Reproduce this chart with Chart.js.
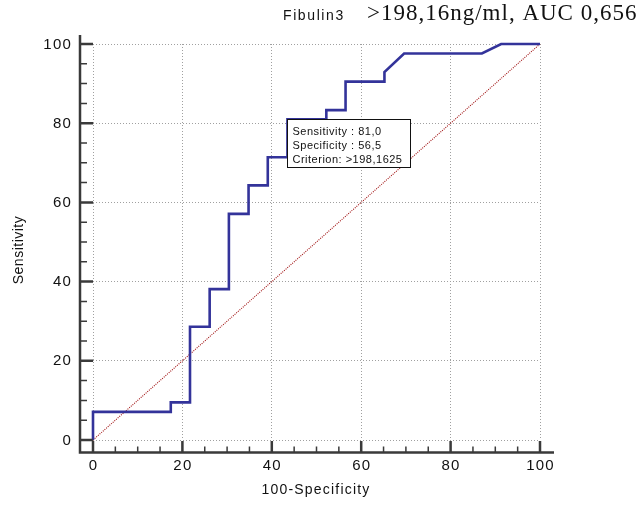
<!DOCTYPE html>
<html>
<head>
<meta charset="utf-8">
<script src="https://cdn.jsdelivr.net/npm/chart.js@4.4.1/dist/chart.umd.min.js"></script>
<style>
html,body{margin:0;padding:0;background:#fff;}
#wrap{width:640px;height:505px;position:relative;}
</style>
</head>
<body>
<div id="wrap"><canvas id="c" width="640" height="505"></canvas></div>
<script>
// ROC curve vertices (100-Specificity, Sensitivity)
const fpr  = [0, 0, 17.4, 17.4, 21.7, 21.7, 26.1, 26.1, 30.4, 30.4, 34.8, 34.8, 39.1, 39.1, 43.5, 43.5, 52.2, 52.2, 56.5, 56.5, 65.2, 65.2, 69.6, 87.0, 91.3, 100];
const sens = [0, 7.1, 7.1, 9.5, 9.5, 28.6, 28.6, 38.1, 38.1, 57.1, 57.1, 64.3, 64.3, 71.4, 71.4, 81.0, 81.0, 83.3, 83.3, 90.5, 90.5, 92.9, 97.6, 97.6, 100, 100];
// reference diagonal
const diagX = [0, 100];
const diagY = [0, 100];
// ticks
const xTicks = [0, 20, 40, 60, 80, 100];
const yTicks = [0, 20, 40, 60, 80, 100];
const minorTicks = [5, 10, 15, 25, 30, 35, 45, 50, 55, 65, 70, 75, 85, 90, 95];
// texts
const titleSans = "Fibulin3";
const titleSerif = ">198,16ng/ml, AUC 0,656";
const xTitle = "100-Specificity";
const yTitle = "Sensitivity";
// criterion point
const critX = 43.5;
const critY = 81.0;
const infoLines = ["Sensitivity : 81,0", "Specificity : 56,5", "Criterion: >198,1625"];

const SANS = '"Liberation Sans", Arial, sans-serif';
const SERIF = '"Liberation Serif", "Times New Roman", serif';
const AXIS = '#3a3a3a';

function txt(ctx, s, x, y, font, align, base, ls) {
  ctx.save();
  ctx.font = font;
  ctx.textAlign = align;
  ctx.textBaseline = base;
  ctx.fillStyle = '#111';
  try { ctx.letterSpacing = (ls || 0) + 'px'; } catch (e) {}
  ctx.fillText(s, x, y);
  ctx.restore();
}

const decor = {
  id: 'decor',
  afterDatasetsDraw(chart) {
    const ctx = chart.ctx;
    const xs = chart.scales.x, ys = chart.scales.y;
    // info box at criterion point
    const bx = Math.round(xs.getPixelForValue(critX)) + 0.5;
    const by = Math.round(ys.getPixelForValue(critY)) + 0.5;
    ctx.save();
    ctx.fillStyle = '#fff';
    ctx.strokeStyle = '#111';
    ctx.lineWidth = 1;
    ctx.fillRect(bx, by, 123, 48);
    ctx.strokeRect(bx, by, 123, 48);
    ctx.restore();
    infoLines.forEach((s, i) => {
      txt(ctx, s, bx + 5, by + 12 + i * 14.3, '11px ' + SANS, 'left', 'middle', 0.5);
    });
  },
  afterDraw(chart) {
    const ctx = chart.ctx;
    const xs = chart.scales.x, ys = chart.scales.y;
    const axX = 80, axY = 452.5;
    ctx.save();
    ctx.strokeStyle = AXIS;
    ctx.lineCap = 'butt';
    // axis lines
    ctx.lineWidth = 2.5;
    ctx.beginPath();
    ctx.moveTo(axX, 35); ctx.lineTo(axX, axY + 1.2);
    ctx.moveTo(axX - 1.2, axY); ctx.lineTo(554, axY);
    ctx.stroke();
    // major ticks
    ctx.lineWidth = 2.5;
    ctx.beginPath();
    yTicks.forEach(v => { const p = ys.getPixelForValue(v); ctx.moveTo(axX, p); ctx.lineTo(93, p); });
    xTicks.forEach(v => { const p = xs.getPixelForValue(v); ctx.moveTo(p, axY); ctx.lineTo(p, 441); });
    ctx.stroke();
    // minor ticks
    ctx.lineWidth = 1.5;
    ctx.beginPath();
    minorTicks.forEach(v => { const p = ys.getPixelForValue(v); ctx.moveTo(axX, p); ctx.lineTo(87, p); });
    minorTicks.forEach(v => { const p = xs.getPixelForValue(v); ctx.moveTo(p, axY); ctx.lineTo(p, 446.5); });
    ctx.stroke();
    ctx.restore();
    // tick labels
    yTicks.forEach(v => txt(ctx, String(v), 72, ys.getPixelForValue(v) + 0.5, '15px ' + SANS, 'right', 'middle', 1.2));
    xTicks.forEach(v => txt(ctx, String(v), xs.getPixelForValue(v) + 0.5, 466, '15px ' + SANS, 'center', 'middle', 1.2));
    // axis titles
    txt(ctx, xTitle, 316, 490, '14px ' + SANS, 'center', 'middle', 1.2);
    ctx.save();
    ctx.translate(19, 250);
    ctx.rotate(-Math.PI / 2);
    txt(ctx, yTitle, 0, 0, '14px ' + SANS, 'center', 'middle', 0.5);
    ctx.restore();
    // title
    txt(ctx, titleSans, 283, 19.5, '14px ' + SANS, 'left', 'alphabetic', 1.6);
    txt(ctx, titleSerif, 367, 19.5, '23px ' + SERIF, 'left', 'alphabetic', 1);
  }
};

new Chart(document.getElementById('c'), {
  type: 'scatter',
  data: {
    datasets: [
      {
        data: fpr.map((x, i) => ({ x: x, y: sens[i] })),
        showLine: true,
        borderColor: '#33339a',
        borderWidth: 2.6,
        pointRadius: 0,
        tension: 0,
        clip: false,
        order: 0
      },
      {
        data: diagX.map((x, i) => ({ x: x, y: diagY[i] })),
        showLine: true,
        borderColor: '#a01010',
        borderWidth: 1.1,
        borderDash: [1, 1.2],
        pointRadius: 0,
        clip: false,
        order: 1
      }
    ]
  },
  options: {
    responsive: false,
    animation: false,
    events: [],
    layout: { padding: { left: 0, top: 44, right: 100, bottom: 0 } },
    plugins: { legend: { display: false }, tooltip: { enabled: false }, title: { display: false } },
    scales: {
      x: {
        type: 'linear', min: 0, max: 100,
        ticks: { display: false, stepSize: 20 },
        grid: { color: '#a0a0a0', lineWidth: 1, drawTicks: false },
        border: { display: false, dash: [1, 2] },
        afterFit: s => { s.height = 65; }
      },
      y: {
        type: 'linear', min: 0, max: 100,
        ticks: { display: false, stepSize: 20 },
        grid: { color: '#a0a0a0', lineWidth: 1, drawTicks: false },
        border: { display: false, dash: [1, 2] },
        afterFit: s => { s.width = 93; }
      }
    }
  },
  plugins: [decor]
});
</script>
</body>
</html>
